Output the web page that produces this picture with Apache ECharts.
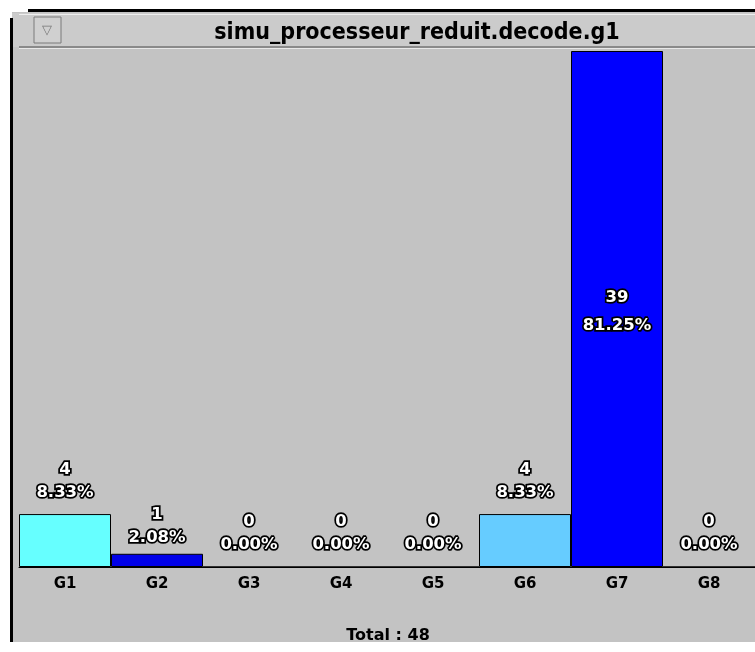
<!DOCTYPE html>
<html><head><meta charset="utf-8">
<script src="https://cdn.jsdelivr.net/npm/echarts@6/dist/echarts.min.js"></script>
<style>html,body{margin:0;padding:0;background:#fff}#c{width:755px;height:652px}</style>
</head><body><div id="c"></div>
<script>
const categories = ['G1','G2','G3','G4','G5','G6','G7','G8'];
const counts = [4, 1, 0, 0, 0, 4, 39, 0];
const barColors = ['#66ffff','#0000e8','#66ffff','#66ffff','#66ffff','#66ccff','#0000ff','#66ffff'];
const titleText = 'simu_processeur_reduit.decode.g1';

const total = counts.reduce((a,b)=>a+b,0);
const chart = echarts.init(document.getElementById('c'));
const labelBase = {
  color:'#ffffff', textBorderColor:'#000000', textBorderWidth:3.5,
  fontFamily:'DejaVu Sans', fontWeight:'bold', fontSize:16.5, lineHeight:23,
  formatter: p => p.value + '\n' + (p.value/total*100).toFixed(2) + '%'
};
const data = counts.map((v,i)=>{
  const item = {value:v, itemStyle:{color:barColors[i]}};
  if (v === Math.max(...counts)) {
    item.label = Object.assign({}, labelBase, {show:true, position:'inside', lineHeight:28, offset:[0,3]});
  } else if (v === 1) {
    item.label = Object.assign({}, labelBase, {show:true, position:'top', distance:5});
  }
  return item;
});
chart.setOption({
  backgroundColor:'#ffffff',
  animation:false,
  graphic:[
    {type:'rect', shape:{x:12,y:12,width:750,height:630}, style:{fill:'#c3c3c3'}, z:-10},
    {type:'rect', shape:{x:12,y:13,width:750,height:34}, style:{fill:'#cbcbcb'}, z:-9},
    {type:'rect', shape:{x:10,y:18,width:3,height:624}, style:{fill:'#000'}, z:-8},
    {type:'rect', shape:{x:28,y:9,width:740,height:3}, style:{fill:'#000'}, z:-8},
    {type:'rect', shape:{x:19,y:14,width:740,height:1}, style:{fill:'#eeeeee'}, z:-8},
    {type:'rect', shape:{x:19,y:46,width:740,height:2}, style:{fill:'#8a8a8a'}, z:-8},
    {type:'rect', shape:{x:19,y:48,width:740,height:1}, style:{fill:'#e8e8e8'}, z:-8},
    {type:'rect', shape:{x:34,y:17,width:27,height:26}, style:{fill:'#d0d0d0',stroke:'#7a7a7a',lineWidth:1}, z:-7},
    {type:'text', style:{x:47,y:30,text:'▽',fill:'#777',fontSize:13,align:'center',verticalAlign:'middle'}, z:-6},
    {type:'text', style:{x:388,y:636,text:'Total : '+total,fill:'#000',fontSize:16,fontWeight:'bold',fontFamily:'DejaVu Sans',align:'center',verticalAlign:'middle'}}
  ],
  title:{text:titleText,left:412,top:17,textAlign:'center',
    textStyle:{fontFamily:'DejaVu Sans Condensed',fontWeight:'bold',fontSize:23,color:'#000'}},
  grid:{left:19,top:51,width:739,height:516},
  xAxis:{type:'category',data:categories,
    axisLine:{lineStyle:{color:'#000',width:1}},axisTick:{show:false},
    axisLabel:{color:'#000',fontFamily:'DejaVu Sans',fontWeight:'bold',fontSize:15,margin:10}},
  yAxis:{type:'value',min:0,max:39,show:false,splitLine:{show:false}},
  series:[{type:'bar',data:data,barCategoryGap:'0%',
    itemStyle:{borderColor:'#000',borderWidth:1},
    label:Object.assign({}, labelBase, {show:true, position:'top', distance:10})}]
});
</script></body></html>
